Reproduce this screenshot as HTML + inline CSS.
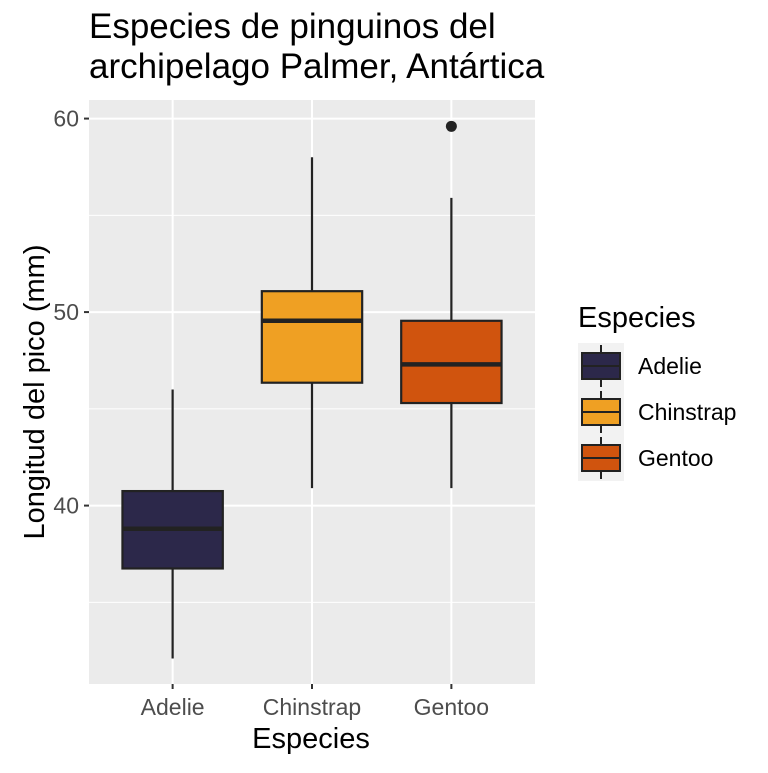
<!DOCTYPE html>
<html><head><meta charset="utf-8"><style>
body{margin:0;background:#fff;font-family:"Liberation Sans",Arial,sans-serif}
</style></head><body>
<svg width="768" height="768" viewBox="0 0 768 768" xmlns="http://www.w3.org/2000/svg">
<text x="89" y="38" font-size="35" fill="#000">Especies de pinguinos del</text>
<text x="89" y="78" font-size="35" fill="#000">archipelago Palmer, Antártica</text>
<rect x="89" y="100" width="446" height="584" fill="#ebebeb"/>
<g id="grid"></g>
<g id="boxes"></g>
<g id="axes"></g>
<text transform="translate(44,392) rotate(-90)" text-anchor="middle" font-size="29" fill="#000">Longitud del pico (mm)</text>
<text x="311" y="748" text-anchor="middle" font-size="29" fill="#000">Especies</text>
<g id="legend">
<text x="578" y="327" font-size="29" fill="#000">Especies</text>
</g>
</svg>
<script>
const categories=["Adelie","Chinstrap","Gentoo"];
const mins=[32.1,40.9,40.9];
const q1s=[36.75,46.35,45.3];
const medians=[38.8,49.55,47.3];
const q3s=[40.75,51.08,49.55];
const maxs=[46,58,55.9];
const outliers=[[],[],[59.6]];
const colors=["#2c284a","#efa023","#d0540e"];
const yTicks=[40,50,60];
const yMinor=[35,45,55];
const NS="http://www.w3.org/2000/svg";
const px0=89,px1=535,py0=100,py1=684,yLo=30.78,yHi=60.96;
const y=v=>py1-(v-yLo)/(yHi-yLo)*(py1-py0);
const step=(px1-px0)/(categories.length-1+1.2);
const x=i=>px0+step*(i+0.6);
function mk(t,a,p){const e=document.createElementNS(NS,t);for(const k in a)e.setAttribute(k,a[k]);p.appendChild(e);return e;}
const grid=document.getElementById('grid'),boxes=document.getElementById('boxes'),axes=document.getElementById('axes'),leg=document.getElementById('legend');
yMinor.forEach(v=>{const l=mk('line',{x1:px0,x2:px1,y1:y(v),y2:y(v),stroke:'#fff','stroke-width':1},grid);

});
yTicks.forEach(v=>{const l=mk('line',{x1:px0,x2:px1,y1:y(v),y2:y(v),stroke:'#fff','stroke-width':2},grid);


const t=mk('line',{x1:px0-5,x2:px0,y1:y(v),y2:y(v),stroke:'#333','stroke-width':2},axes);


const tx=mk('text',{x:px0-10,y:y(v)+8,'text-anchor':'end','font-size':23,fill:'#4d4d4d'},axes);tx.textContent=v;

});
categories.forEach((c,i)=>{const cx=x(i);
const g=mk('line',{x1:cx,x2:cx,y1:py0,y2:py1,stroke:'#fff','stroke-width':2},grid);


const t=mk('line',{x1:cx,x2:cx,y1:py1,y2:py1+5,stroke:'#333','stroke-width':2},axes);


const tx=mk('text',{x:cx,y:py1+31,'text-anchor':'middle','font-size':23,fill:'#4d4d4d'},axes);tx.textContent=c;


const bw=step*0.72;
const w=mk('line',{x1:cx,x2:cx,y1:y(maxs[i]),y2:y(mins[i]),stroke:'#222','stroke-width':2.2},boxes);


const b=mk('rect',{x:cx-bw/2,y:y(q3s[i]),width:bw,height:y(q1s[i])-y(q3s[i]),fill:colors[i],stroke:'#222','stroke-width':2.2},boxes);


const m=mk('line',{x1:cx-bw/2,x2:cx+bw/2,y1:y(medians[i]),y2:y(medians[i]),stroke:'#222','stroke-width':4.5},boxes);


outliers[i].forEach(o=>{const p=mk('circle',{cx:cx,cy:y(o),r:5.5,fill:'#222'},boxes);

});
const ky=343+i*46;
const bg=mk('rect',{x:578,y:ky,width:46,height:46,fill:'#f2f2f2'},leg);


const kl=mk('line',{x1:601,x2:601,y1:ky+2,y2:ky+44,stroke:'#222','stroke-width':2},leg);


const kb=mk('rect',{x:582,y:ky+10,width:38,height:26,fill:colors[i],stroke:'#222','stroke-width':2},leg);


const km=mk('line',{x1:582,x2:620,y1:ky+23,y2:ky+23,stroke:'#222','stroke-width':2},leg);


const lt=mk('text',{x:638,y:ky+31,'font-size':23,fill:'#000'},leg);lt.textContent=c;


});
</script>
</body></html>
